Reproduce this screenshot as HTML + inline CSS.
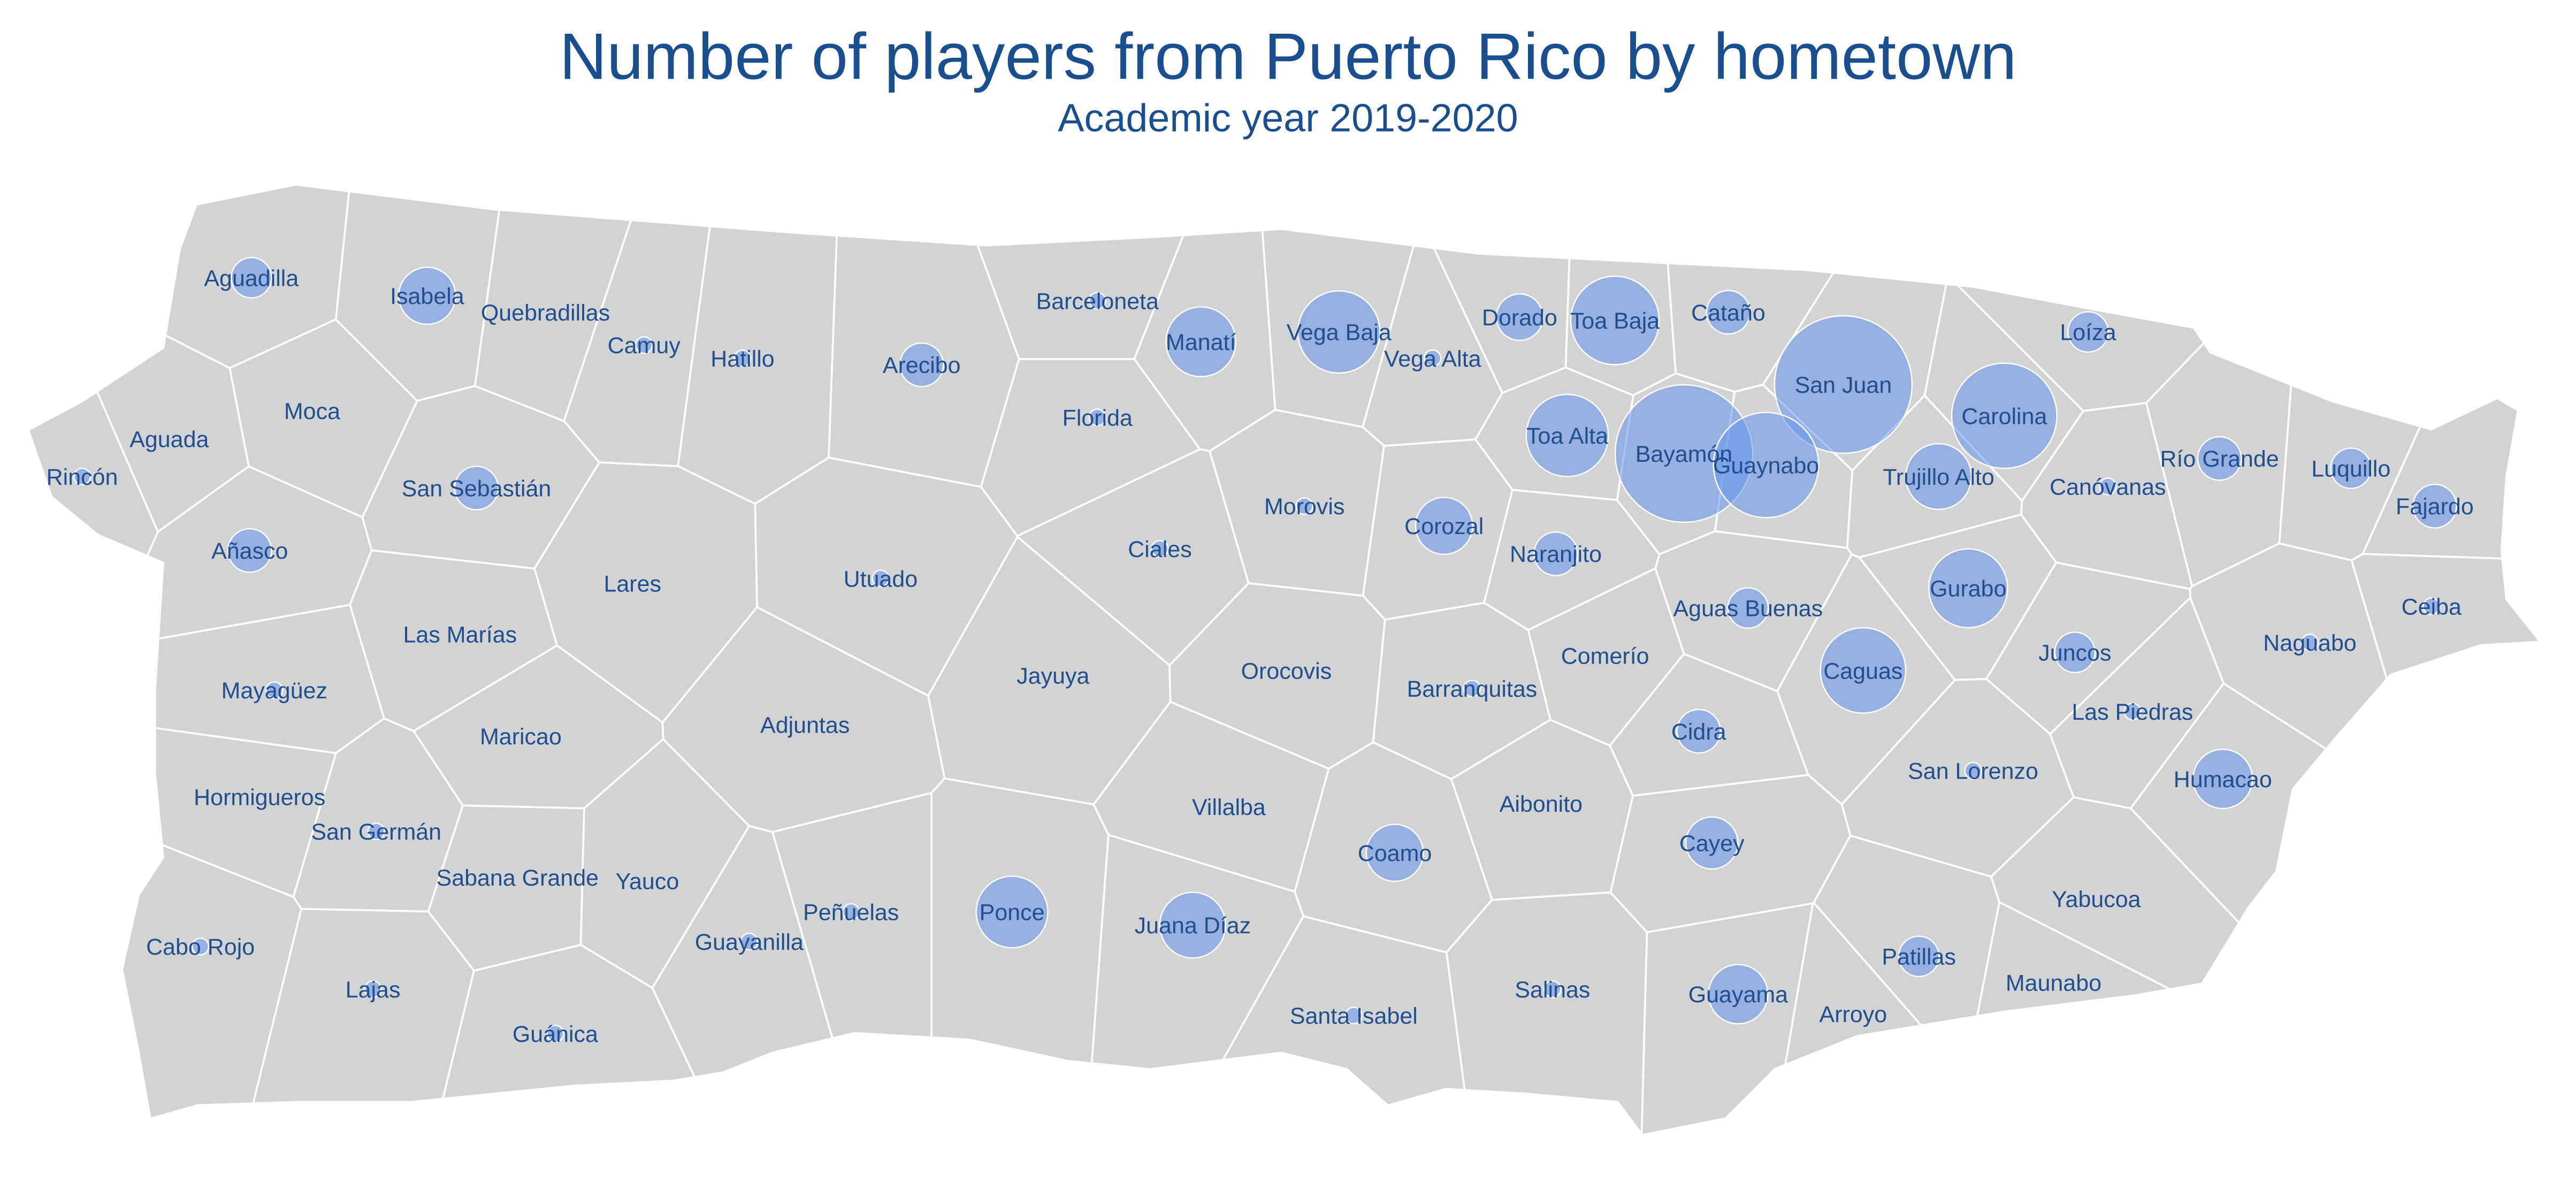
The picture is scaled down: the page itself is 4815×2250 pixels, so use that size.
<!DOCTYPE html>
<html><head><meta charset="utf-8">
<style>
html,body{margin:0;padding:0;background:#fff;}
svg{display:block;}
text{font-family:"Liberation Sans",Arial,sans-serif;}
</style></head>
<body>
<svg id="chart" width="4815" height="2250" viewBox="0 0 1568 732.7" xmlns="http://www.w3.org/2000/svg">
<text x="784" y="48" text-anchor="middle" font-size="40" fill="#1a4f8f">Number of players from Puerto Rico by hometown</text>
<text x="784" y="80" text-anchor="middle" font-size="24" fill="#1a4f8f">Academic year 2019-2020</text>
<defs><clipPath id="island"><path id="islandPath" d=""/></clipPath></defs>
<g id="land" clip-path="url(#island)"></g>
<g id="bubbles"></g>
<g id="labels"></g>
</svg>
<script>
const towns=["San Juan","Bayamón","Guaynabo","Carolina","Toa Baja","Toa Alta","Vega Baja","Caguas","Gurabo","Manatí","Ponce","Juana Díaz","Trujillo Alto","Corozal","Coamo","Guayama","Humacao","Isabela","Cayey","Dorado","Cataño","Aguadilla","Añasco","Cidra","Aguas Buenas","Naranjito","San Sebastián","Juncos","Loíza","Río Grande","Luquillo","Fajardo","Patillas","Arecibo","Camuy","Hatillo","Barceloneta","Vega Alta","Florida","Morovis","Ciales","Utuado","Barranquitas","Mayagüez","San Germán","Cabo Rojo","Lajas","Guánica","Guayanilla","Peñuelas","Santa Isabel","Salinas","San Lorenzo","Las Piedras","Naguabo","Ceiba","Canóvanas","Rincón","Quebradillas","Moca","Aguada","Lares","Las Marías","Maricao","Hormigueros","Sabana Grande","Yauco","Adjuntas","Jayuya","Orocovis","Villalba","Aibonito","Comerío","Yabucoa","Maunabo","Arroyo"];
const players=[70,70,41,41,29,25,25,27,23,18,19,16,16,12,12,13,13,12,10,8,7,6,7,7,6,7,7,6,6,7,6,7,6,7,1,1,1,1,1,1,1,1,1,1,1,1,1,1,1,1,1,1,1,1,1,1,1,1,0,0,0,0,0,0,0,0,0,0,0,0,0,0,0,0,0,0];
const geoX=[1122,1025,1075,1220,983,954,815,1134,1198,731,616,726,1180,879,849,1058,1353,260,1042,925,1052,153,152,1034,1064,947,290,1263,1271,1351,1431,1482,1168,561,392,452,668,872,668,794,706,536,896,167,229,122,227,338,456,518,824,945,1201,1298,1406,1480,1283,50,332,190,103,385,280,317,158,315,394,490,641,783,748,938,977,1276,1250,1128];
const geoY=[234,276,283,253,195,265,202,408,358,208,555,563,290,320,519,605,474,180,513,193,190,169,335,445,370,337,297,397,202,279,285,308,582,222,210,218,183,218,254,308,334,352,419,420,506,576,602,629,573,555,618,602,469,433,391,369,296,290,190,250,267,355,386,448,485,534,536,441,411,408,491,489,399,547,598,617];
const coast=[[120,125],[180,113],[300,128],[480,142],[600,150],[700,145],[780,140],[900,155],[1000,160],[1100,165],[1200,175],[1280,190],[1335,200],[1345,215],[1420,245],[1480,262],[1520,243],[1532,250],[1525,290],[1522,335],[1525,365],[1545,390],[1510,392],[1455,410],[1420,450],[1395,480],[1385,530],[1368,552],[1340,598],[1300,605],[1220,615],[1130,630],[1080,650],[1050,680],[1000,690],[985,670],[930,665],[880,662],[845,672],[820,650],[780,640],[700,650],[650,645],[590,632],[520,628],[470,640],[440,652],[410,657],[350,660],[300,665],[250,670],[180,670],[120,672],[92,680],[85,640],[75,590],[85,545],[100,522],[95,470],[95,420],[100,342],[60,325],[32,302],[18,262],[50,245],[100,212],[110,152]];
const R=v=>5*Math.sqrt(v);
const NS="http://www.w3.org/2000/svg";
document.getElementById('islandPath').setAttribute('d','M'+coast.map(p=>p.join(',')).join('L')+'Z');
// Voronoi cells as municipality approximations
function clip(poly,a,b,c){ // keep a*x+b*y<=c
  const out=[];
  for(let i=0;i<poly.length;i++){
    const p=poly[i],q=poly[(i+1)%poly.length];
    const fp=a*p[0]+b*p[1]-c,fq=a*q[0]+b*q[1]-c;
    if(fp<=0)out.push(p);
    if((fp<0&&fq>0)||(fp>0&&fq<0)){const t=fp/(fp-fq);out.push([p[0]+t*(q[0]-p[0]),p[1]+t*(q[1]-p[1])]);}
  }
  return out;
}
const land=document.getElementById('land');
const bg=document.createElementNS(NS,'path');
bg.setAttribute('d','M'+coast.map(p=>p.join(',')).join('L')+'Z');
bg.setAttribute('fill','#d3d3d3');


land.appendChild(bg);
for(let i=0;i<towns.length;i++){
  let poly=[[0,90],[1568,90],[1568,732],[0,732]];
  for(let j=0;j<towns.length;j++){if(i===j)continue;
    const a=geoX[j]-geoX[i],b=geoY[j]-geoY[i];
    const c=(geoX[j]*geoX[j]-geoX[i]*geoX[i]+geoY[j]*geoY[j]-geoY[i]*geoY[i])/2;
    poly=clip(poly,a,b,c); if(!poly.length)break;}
  const el=document.createElementNS(NS,'path');
  el.setAttribute('d','M'+poly.map(p=>p[0].toFixed(1)+','+p[1].toFixed(1)).join('L')+'Z');
  el.setAttribute('fill','#d3d3d3');el.setAttribute('stroke','#ffffff');el.setAttribute('stroke-width','1.2');
  
  
  land.appendChild(el);
}
const bub=document.getElementById('bubbles'),lab=document.getElementById('labels');
for(let i=0;i<towns.length;i++){
  if(players[i]>0){
    const c=document.createElementNS(NS,'circle');
    c.setAttribute('cx',geoX[i]);c.setAttribute('cy',geoY[i]);c.setAttribute('r',R(players[i]));
    c.setAttribute('fill','#6495ED');c.setAttribute('fill-opacity','0.55');c.setAttribute('stroke','#ffffff');c.setAttribute('stroke-width','0.8');
    
    
    bub.appendChild(c);
  }
  const t=document.createElementNS(NS,'text');
  t.setAttribute('x',geoX[i]);t.setAttribute('y',geoY[i]+5);t.setAttribute('text-anchor','middle');
  t.setAttribute('font-size','14');t.setAttribute('fill','#1f4f8f');
  t.textContent=towns[i];
  
  
  lab.appendChild(t);
}
</script>
</body></html>
